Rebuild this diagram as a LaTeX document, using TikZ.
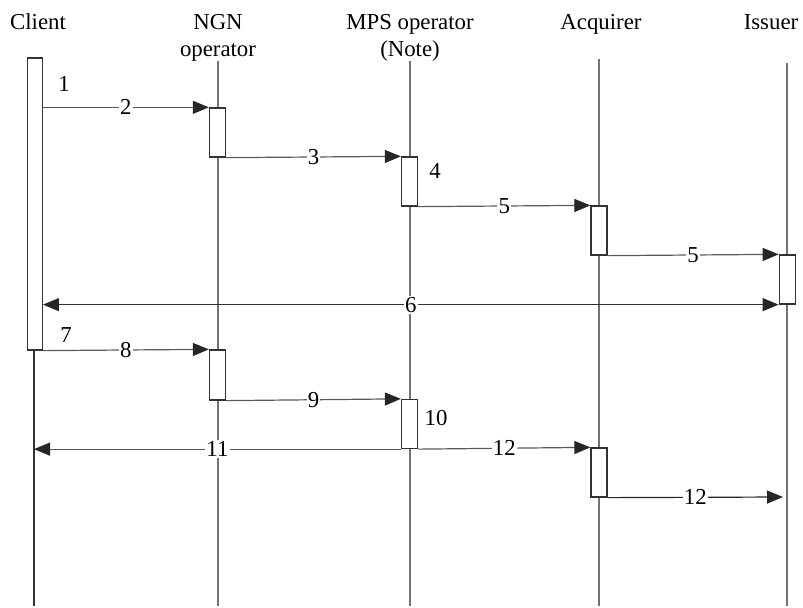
\documentclass[tikz,border=0pt]{standalone}
\usepackage{fontspec}
\setmainfont{Liberation Serif}
\usetikzlibrary{arrows.meta}

\begin{document}
\begin{tikzpicture}[x=0.5pt, y=-0.5pt, >={Triangle[length=8pt,width=6.5pt,color=black!85]},
    head/.style={align=center, anchor=base, inner sep=0pt, font=\fontsize{11.4}{13.6}\selectfont},
    num/.style={fill=white, inner sep=0.6pt, font=\fontsize{11.4}{13.6}\selectfont},
    life/.style={draw=black!55, line width=0.6pt},
    act/.style={draw=black!80, fill=white, line width=0.65pt, inner sep=0pt, minimum width=8pt, minimum height=24.5pt},
    msg/.style={draw=black!65, line width=0.6pt, ->}]
    \useasboundingbox (0,0) rectangle (803,608);
    % participants
    \node[head] (client) at (38,30) {Client};
    \node[head] (ngn) at (218,57) {NGN\\operator};
    \node[head] (mps) at (410,57) {MPS operator\\(Note)};
    \node[head] (acq) at (601,30) {Acquirer};
    \node[head] (iss) at (771,30) {Issuer};
    % lifelines
    \foreach \n/\x/\t in {ngn/218/61, mps/410/61, acq/599/59, iss/787/63} {
        \coordinate (\n top) at (\x,\t);
        \coordinate (\n bot) at (\x,606);
        \draw[life] (\n top) -- (\n bot);
    }
    \coordinate (client top) at (34,350);
    \coordinate (client bot) at (34,606);
    \draw[life, draw=black!80] (client top) -- (client bot);
    % activations
    \node[act, minimum width=7.3pt, minimum height=146pt] (cbox) at (35,204) {};
    \node[act] (ngn1) at (217.5,132.5) {};
    \node[act] (mps1) at (409.5,181.5) {};
    \node[act] (acq1) at (599,230.5) {};
    \node[act] (iss1) at (787.3,279.5) {};
    \node[act, minimum height=25pt] (ngn2) at (217.5,375) {};
    \node[act] (mps2) at (409.5,424) {};
    \node[act] (acq2) at (599,472.5) {};
    % messages
    \draw[msg] (cbox.east |- ngn1.north west) -- (ngn1.north west) node[num, midway] {2};
    \draw[msg] (ngn1.south east) -- (mps1.north west) node[num, midway] {3};
    \draw[msg] (mps1.south east) -- (acq1.north west) node[num, midway] {5};
    \draw[msg] (acq1.south east) -- (iss1.north west) node[num, midway] {5};
    \draw[msg, <->, draw=black!80] (cbox.east |- iss1.south west) -- (iss1.south west) node[num, midway] {6};
    \draw[msg] (cbox.south east) -- (ngn2.north west) node[num, midway] {8};
    \draw[msg] (ngn2.south east) -- (mps2.north west) node[num, midway] {9};
    \draw[msg] (mps2.south west) -- (mps2.south west -| client bot) node[num, midway] {11};
    \draw[msg] (mps2.south east) -- (acq2.north west) node[num, midway] {12};
    \coordinate (lost) at (783,497);
    \draw[msg, draw=black!85] (acq2.south east) -- (lost) node[num, midway] {12};
    % step numbers
    \node[num, fill=none] (n1) at (64,84) {1};
    \node[num, fill=none] (n4) at (435,171) {4};
    \node[num, fill=none] (n7) at (66,335) {7};
    \node[num, fill=none] (n10) at (436,418) {10};
\end{tikzpicture}
\end{document}
